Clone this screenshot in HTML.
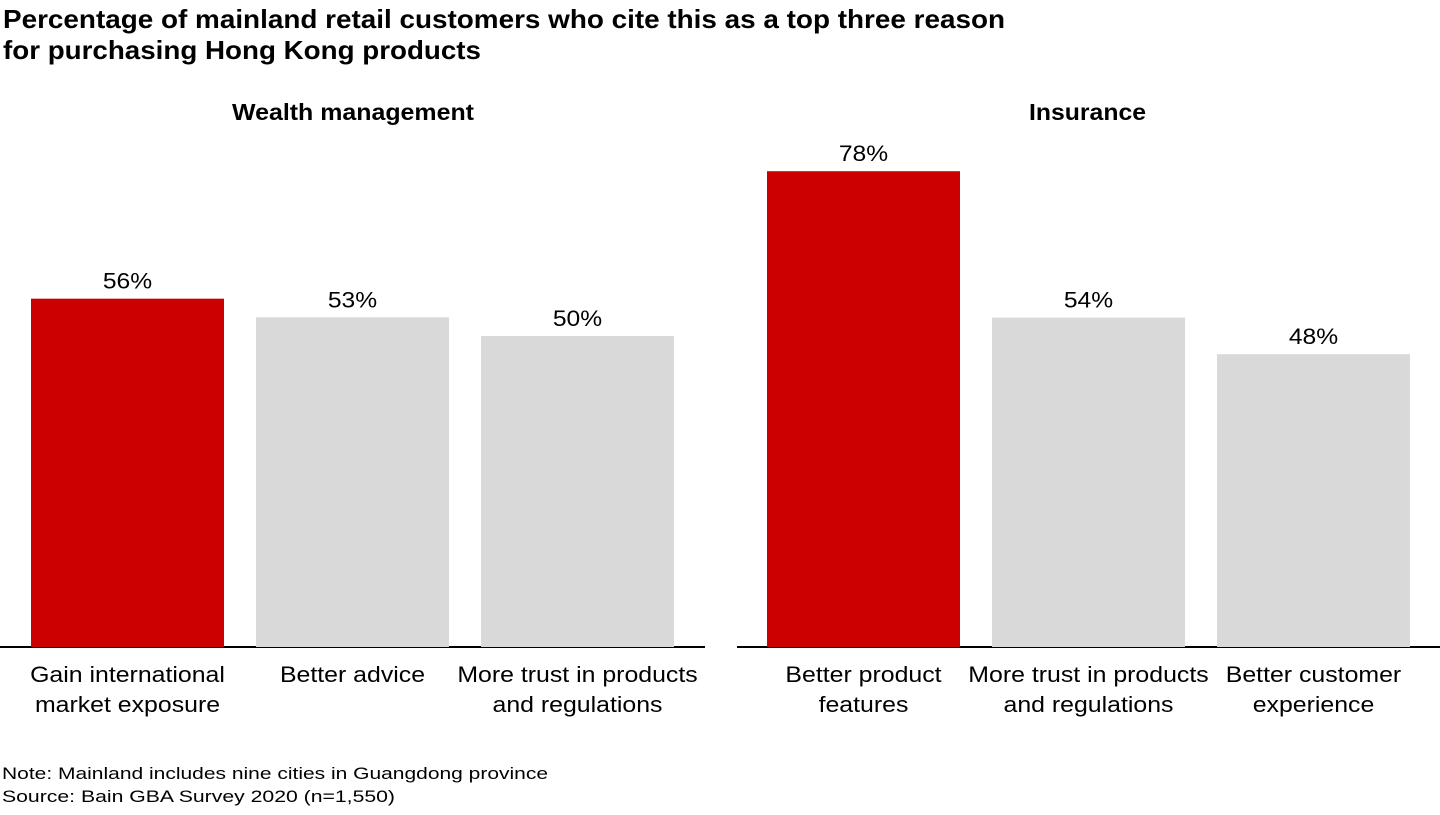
<!DOCTYPE html>
<html><head><meta charset="utf-8">
<style>
body{margin:0;width:1440px;height:810px;background:#fff;font-family:"Liberation Sans",Arial,sans-serif;overflow:hidden}
svg text{font-family:"Liberation Sans",Arial,sans-serif}
</style></head><body>
<svg id="chart" width="1440" height="810">
<text x="3" y="28" font-size="26" font-weight="bold" textLength="1002" lengthAdjust="spacingAndGlyphs">Percentage of mainland retail customers who cite this as a top three reason</text>
<text x="3" y="59" font-size="26" font-weight="bold" textLength="478" lengthAdjust="spacingAndGlyphs">for purchasing Hong Kong products</text>
<text x="232" y="120" font-size="23" font-weight="bold" textLength="242" lengthAdjust="spacingAndGlyphs">Wealth management</text>
<text x="1029" y="120" font-size="23" font-weight="bold" textLength="117" lengthAdjust="spacingAndGlyphs">Insurance</text>
<line x1="0" y1="647" x2="705" y2="647" stroke="#000" stroke-width="2"/>
<line x1="737" y1="647" x2="1440" y2="647" stroke="#000" stroke-width="2"/>
<text x="2" y="779" font-size="17" textLength="546" lengthAdjust="spacingAndGlyphs">Note: Mainland includes nine cities in Guangdong province</text>
<text x="2" y="802" font-size="17" textLength="393" lengthAdjust="spacingAndGlyphs">Source: Bain GBA Survey 2020 (n=1,550)</text>
</svg>
<script>
const wealthCategories=[["Gain international","market exposure"],["Better advice"],["More trust in products","and regulations"]];
const wealthValues=[56,53,50];
const insuranceCategories=[["Better product","features"],["More trust in products","and regulations"],["Better customer","experience"]];
const insuranceValues=[78,54,48];
const svg=document.getElementById('chart');
const NS='http://www.w3.org/2000/svg';
function panel(cats,vals,x0,scale,prefix){
  const base=647,bw=193,step=225;
  vals.forEach((v,i)=>{
    const x=x0+i*step,h=v*scale;
    const r=document.createElementNS(NS,'rect');
    r.setAttribute('x',x);r.setAttribute('y',base-h);r.setAttribute('width',bw);r.setAttribute('height',h);
    r.setAttribute('fill',i===0?'#cc0000':'#d9d9d9');
    
    
    svg.appendChild(r);
    const t=document.createElementNS(NS,'text');
    t.setAttribute('x',x+bw/2);t.setAttribute('y',base-h-10);t.setAttribute('font-size','22');t.setAttribute('text-anchor','middle');
    t.setAttribute('transform','translate('+(x+bw/2)+',0) scale(1.12,1) translate('+(-(x+bw/2))+',0)');
    t.textContent=v+'%';
    
    
    svg.appendChild(t);
    cats[i].forEach((line,j)=>{
      const c=document.createElementNS(NS,'text');
      c.setAttribute('x',x+bw/2);c.setAttribute('y',682+j*30);c.setAttribute('font-size','22');c.setAttribute('text-anchor','middle');
      c.setAttribute('transform','translate('+(x+bw/2)+',0) scale(1.13,1) translate('+(-(x+bw/2))+',0)');
      c.textContent=line;
      
      
      svg.appendChild(c);
    });
  });
}
panel(wealthCategories,wealthValues,31,6.22,'wealth');
panel(insuranceCategories,insuranceValues,767,6.1,'insurance');
</script>
</body></html>
